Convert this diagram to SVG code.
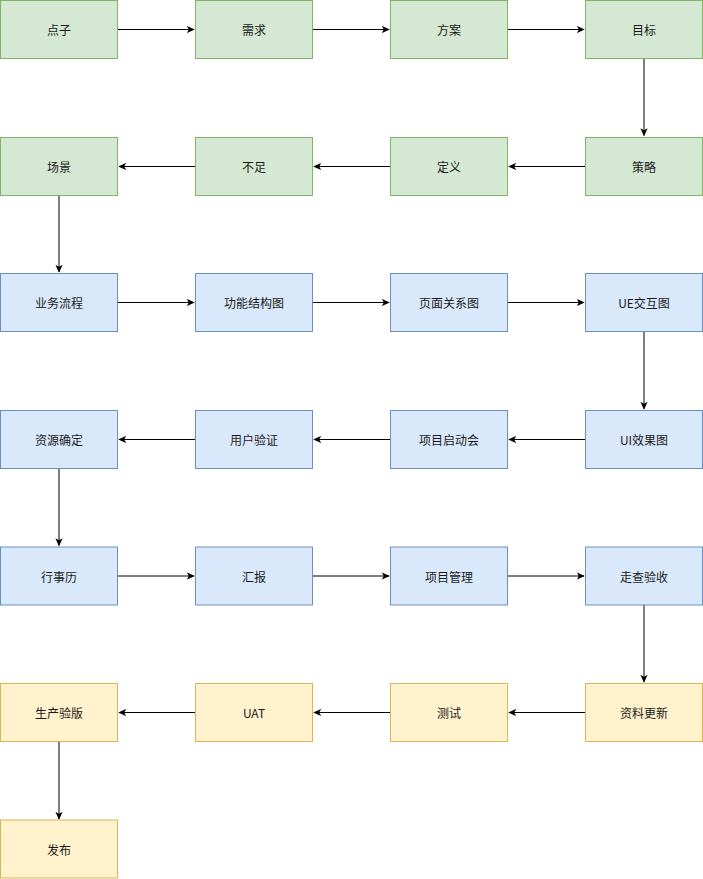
<svg xmlns="http://www.w3.org/2000/svg" width="703" height="879" viewBox="0 0 703 879">
<style>
.g rect{fill:#d5e8d4;stroke:#82b366}
.b rect{fill:#dae8fc;stroke:#6c8ebf}
.y rect{fill:#fff2cc;stroke:#d6b656}
text{font-family:"Noto Sans CJK SC","Liberation Sans",sans-serif;font-size:12px;fill:#1a1a1a;text-anchor:middle;dominant-baseline:central}
.e{stroke:#000;stroke-width:1;fill:none;marker-end:url(#a)}
</style>
<defs>
<marker id="a" viewBox="0 0 10 10" refX="9" refY="5" markerWidth="8" markerHeight="8" markerUnits="userSpaceOnUse" orient="auto">
<path d="M0,0.5 L10,5 L0,9.5 L2.5,5 Z" fill="#000"/>
</marker>
</defs>
<g id="edges">
<path class="e" d="M117.5,29.5 H194"/>
<path class="e" d="M312.5,29.5 H389"/>
<path class="e" d="M507.5,29.5 H584"/>
<path class="e" d="M644,58.5 V135.5"/>
<path class="e" d="M585.5,166.5 H509"/>
<path class="e" d="M390.5,166.5 H314"/>
<path class="e" d="M195.5,166.5 H119"/>
<path class="e" d="M59,195.5 V272"/>
<path class="e" d="M117.5,302.5 H194"/>
<path class="e" d="M312.5,302.5 H389"/>
<path class="e" d="M507.5,302.5 H584"/>
<path class="e" d="M644,331.5 V409"/>
<path class="e" d="M585.5,439.5 H509"/>
<path class="e" d="M390.5,439.5 H314"/>
<path class="e" d="M195.5,439.5 H119"/>
<path class="e" d="M59,468.5 V545.5"/>
<path class="e" d="M117.5,576 H194"/>
<path class="e" d="M312.5,576 H389"/>
<path class="e" d="M507.5,576 H584"/>
<path class="e" d="M644,605 V682"/>
<path class="e" d="M585.5,712.5 H509"/>
<path class="e" d="M390.5,712.5 H314"/>
<path class="e" d="M195.5,712.5 H119"/>
<path class="e" d="M59,741.5 V819"/>
</g>
<g id="n1" class="g"><rect x="0.5" y="0.5" width="117" height="58"/><text x="59" y="29.5">点子</text></g>
<g id="n2" class="g"><rect x="195.5" y="0.5" width="117" height="58"/><text x="254" y="29.5">需求</text></g>
<g id="n3" class="g"><rect x="390.5" y="0.5" width="117" height="58"/><text x="449" y="29.5">方案</text></g>
<g id="n4" class="g"><rect x="585.5" y="0.5" width="117" height="58"/><text x="644" y="29.5">目标</text></g>
<g id="n5" class="g"><rect x="585.5" y="137.5" width="117" height="58"/><text x="644" y="166.5">策略</text></g>
<g id="n6" class="g"><rect x="390.5" y="137.5" width="117" height="58"/><text x="449" y="166.5">定义</text></g>
<g id="n7" class="g"><rect x="195.5" y="137.5" width="117" height="58"/><text x="254" y="166.5">不足</text></g>
<g id="n8" class="g"><rect x="0.5" y="137.5" width="117" height="58"/><text x="59" y="166.5">场景</text></g>
<g id="n9" class="b"><rect x="0.5" y="273.5" width="117" height="58"/><text x="59" y="302.5">业务流程</text></g>
<g id="n10" class="b"><rect x="195.5" y="273.5" width="117" height="58"/><text x="254" y="302.5">功能结构图</text></g>
<g id="n11" class="b"><rect x="390.5" y="273.5" width="117" height="58"/><text x="449" y="302.5">页面关系图</text></g>
<g id="n12" class="b"><rect x="585.5" y="273.5" width="117" height="58"/><text x="644" y="302.5">UE交互图</text></g>
<g id="n13" class="b"><rect x="585.5" y="410.5" width="117" height="58"/><text x="644" y="439.5">UI效果图</text></g>
<g id="n14" class="b"><rect x="390.5" y="410.5" width="117" height="58"/><text x="449" y="439.5">项目启动会</text></g>
<g id="n15" class="b"><rect x="195.5" y="410.5" width="117" height="58"/><text x="254" y="439.5">用户验证</text></g>
<g id="n16" class="b"><rect x="0.5" y="410.5" width="117" height="58"/><text x="59" y="439.5">资源确定</text></g>
<g id="n17" class="b"><rect x="0.5" y="547" width="117" height="58"/><text x="59" y="576">行事历</text></g>
<g id="n18" class="b"><rect x="195.5" y="547" width="117" height="58"/><text x="254" y="576">汇报</text></g>
<g id="n19" class="b"><rect x="390.5" y="547" width="117" height="58"/><text x="449" y="576">项目管理</text></g>
<g id="n20" class="b"><rect x="585.5" y="547" width="117" height="58"/><text x="644" y="576">走查验收</text></g>
<g id="n21" class="y"><rect x="585.5" y="683.5" width="117" height="58"/><text x="644" y="712.5">资料更新</text></g>
<g id="n22" class="y"><rect x="390.5" y="683.5" width="117" height="58"/><text x="449" y="712.5">测试</text></g>
<g id="n23" class="y"><rect x="195.5" y="683.5" width="117" height="58"/><text x="254" y="712.5">UAT</text></g>
<g id="n24" class="y"><rect x="0.5" y="683.5" width="117" height="58"/><text x="59" y="712.5">生产验版</text></g>
<g id="n25" class="y"><rect x="0.5" y="820" width="117" height="58"/><text x="59" y="849">发布</text></g>
</svg>
